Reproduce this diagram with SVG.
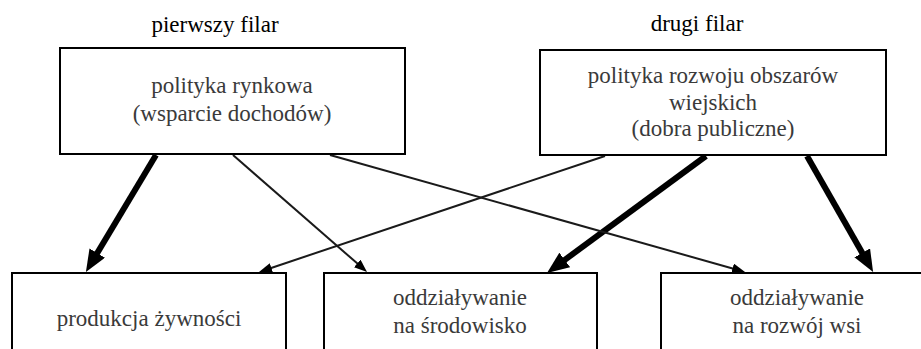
<svg xmlns="http://www.w3.org/2000/svg" width="921" height="349" viewBox="0 0 921 349">
  <defs>
    <marker id="headThick" markerUnits="userSpaceOnUse" markerWidth="22" markerHeight="18" viewBox="0 0 22 18" refX="2" refY="9" orient="auto">
      <path d="M0,0 L22,9 L0,18 z" fill="#000000"/>
    </marker>
    <marker id="headThin" markerUnits="userSpaceOnUse" markerWidth="13" markerHeight="10" viewBox="0 0 13 10" refX="1" refY="5" orient="auto">
      <path d="M0,0 L13,5 L0,10 z" fill="#000000"/>
    </marker>
  </defs>
  <rect width="921" height="349" fill="#ffffff"/>

  <g id="titles" font-size="23" fill="#000000">
    <text x="215" y="32" font-family="Times" text-anchor="middle">pierwszy filar</text>
    <text x="697" y="31" font-family="Times" text-anchor="middle">drugi filar</text>
  </g>

  <g id="connectors" fill="none">
    <g stroke="#000000" stroke-width="6" marker-end="url(#headThick)">
      <line x1="156" y1="155" x2="96.2" y2="254.8"/>
      <line x1="706" y1="156" x2="563.1" y2="261.1"/>
      <line x1="807" y1="156" x2="863.2" y2="254.6"/>
    </g>
    <g stroke="#1a1a1a" stroke-width="2" marker-end="url(#headThin)">
      <line x1="233" y1="155" x2="358" y2="264.1"/>
      <line x1="330" y1="155" x2="733.5" y2="268.7"/>
      <line x1="605" y1="156" x2="270.4" y2="268.2"/>
    </g>
  </g>

  <g id="node-rynkowa" font-size="23" fill="#3a3a3a">
    <rect x="60" y="48" width="345" height="106" fill="#ffffff" stroke="#000000" stroke-width="2"/>
    <text x="232" y="93" font-family="Times" text-anchor="middle">polityka rynkowa</text>
    <text x="232" y="121" font-family="Times" text-anchor="middle">(wsparcie dochodów)</text>
  </g>

  <g id="node-rozwoj" font-size="23" fill="#3a3a3a">
    <rect x="540" y="50" width="346" height="105" fill="#ffffff" stroke="#000000" stroke-width="2"/>
    <text x="713" y="83" font-family="Times" text-anchor="middle">polityka rozwoju obszarów</text>
    <text x="713" y="110" font-family="Times" text-anchor="middle">wiejskich</text>
    <text x="713" y="136" font-family="Times" text-anchor="middle">(dobra publiczne)</text>
  </g>

  <g id="node-produkcja" font-size="23" fill="#3a3a3a">
    <rect x="12" y="273" width="274" height="90" fill="#ffffff" stroke="#000000" stroke-width="2"/>
    <text x="149" y="326" font-family="Times" text-anchor="middle">produkcja żywności</text>
  </g>

  <g id="node-srodowisko" font-size="23" fill="#3a3a3a">
    <rect x="324" y="273" width="273" height="90" fill="#ffffff" stroke="#000000" stroke-width="2"/>
    <text x="460" y="305" font-family="Times" text-anchor="middle">oddziaływanie</text>
    <text x="460" y="333" font-family="Times" text-anchor="middle">na środowisko</text>
  </g>

  <g id="node-wies" font-size="23" fill="#3a3a3a">
    <rect x="661" y="273" width="280" height="90" fill="#ffffff" stroke="#000000" stroke-width="2"/>
    <text x="797" y="305" font-family="Times" text-anchor="middle">oddziaływanie</text>
    <text x="797" y="333" font-family="Times" text-anchor="middle">na rozwój wsi</text>
  </g>
</svg>
